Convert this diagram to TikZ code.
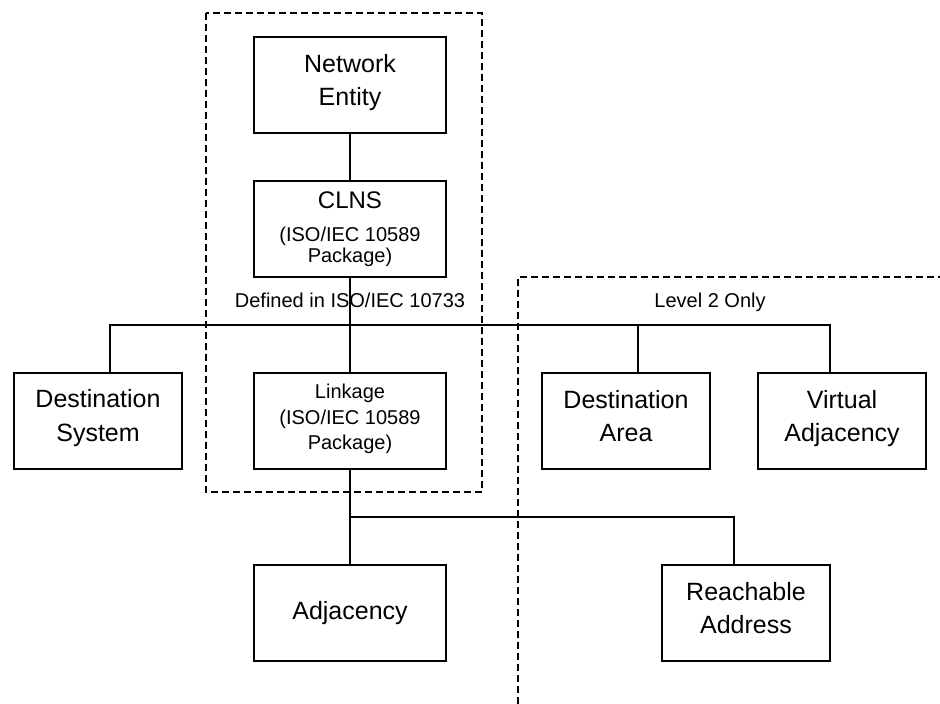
\documentclass[tikz,border=0pt]{standalone}
\usepackage{fontspec}
\setmainfont{Liberation Sans}
\begin{document}
\begin{tikzpicture}[x=1pt,y=-1pt,
  box/.style={draw, line width=2pt, inner sep=0pt, align=center, minimum height=96pt},
  wide/.style={box, minimum width=192pt},
  narrow/.style={box, minimum width=168pt},
  big/.style={font=\fontsize{25}{33.5}\selectfont, execute at begin node=\strut, execute at end node=\strut},
  small/.style={font=\fontsize{20}{25.5}\selectfont, execute at begin node=\strut, execute at end node=\strut},
  conn/.style={line width=2pt},
  frame/.style={line width=2pt, dash pattern=on 7pt off 4pt},
  lbl/.style={font=\fontsize{20}{24}\selectfont, inner sep=0pt, anchor=base}]
\useasboundingbox (0,0) rectangle (940,704);

% frames
\draw[frame] (206,13) rectangle (482,492);
\draw[frame] (518,704) -- (518,277) -- (940,277);

% labels
\node[lbl] (def) at (350,307) {Defined in ISO/IEC 10733};
\node[lbl] (lvl) at (710,307) {Level 2 Only};

% boxes
\node[wide,big] (ne) at (350,85) {Network\\Entity};
\node[wide,font=\fontsize{20}{21}\selectfont] (clns) at (350,229) {{\fontsize{24}{30}\selectfont CLNS}\\[12pt](ISO/IEC 10589\\Package)};
\node[narrow,big] (ds) at (98,420.5) {Destination\\System};
\node[wide,small] (lk) at (350,421) {Linkage\\(ISO/IEC 10589\\Package)};
\node[narrow,big] (da) at (626,421) {Destination\\Area};
\node[narrow,big] (va) at (842,421) {Virtual\\Adjacency};
\node[wide,big] (adj) at (350,613) {Adjacency};
\node[narrow,big] (ra) at (746,613) {Reachable\\Address};

% junction points
\coordinate (h1l) at (110,325);
\coordinate (h1r) at (830,325);
\coordinate (hda) at (638,325);
\coordinate (h2l) at (350,517);
\coordinate (h2r) at (734,517);

% connectors
\draw[conn] (ne) -- (clns);
\draw[conn] (clns) -- (lk);
\draw[conn] (ds.north -| h1l) -- (h1l) -- (h1r) -- (h1r |- va.north);
\draw[conn] (hda) -- (hda |- da.north);
\draw[conn] (lk) -- (adj);
\draw[conn] (h2l) -- (h2r) -- (h2r |- ra.north);
\end{tikzpicture}
\end{document}
